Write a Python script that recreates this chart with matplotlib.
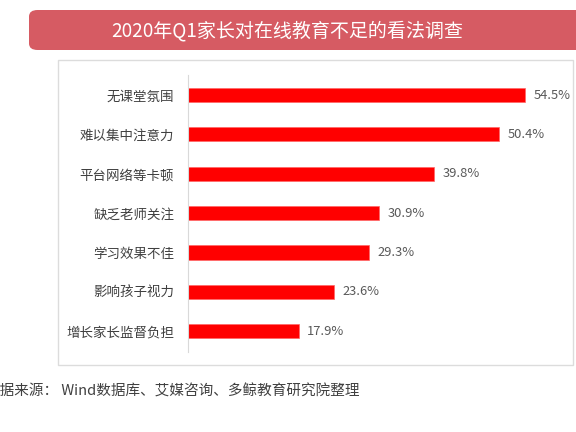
import matplotlib
matplotlib.use('Agg')
from matplotlib import pyplot as plt
from matplotlib.patches import FancyBboxPatch, Rectangle

plt.rcParams['font.family'] = ['Noto Sans CJK SC', 'DejaVu Sans']

title = '2020年Q1家长对在线教育不足的看法调查'
source = '数据来源： Wind数据库、艾媒咨询、多鲸教育研究院整理'
categories = ['无课堂氛围', '难以集中注意力', '平台网络等卡顿', '缺乏老师关注',
              '学习效果不佳', '影响孩子视力', '增长家长监督负担']
values = [54.5, 50.4, 39.8, 30.9, 29.3, 23.6, 17.9]

W, H = 576, 432
fig = plt.figure(figsize=(W / 100, H / 100), dpi=100)

# title banner
banner = FancyBboxPatch((29 / W, 1 - 50 / H), 600 / W, 40 / H,
                        boxstyle='round,pad=0,rounding_size=0.015',
                        transform=fig.transFigure, facecolor='#D65B63',
                        edgecolor='none', zorder=-2)
fig.patches.append(banner)
fig.text(287 / W, 1 - 31 / H, title, color='white', fontsize=13.7,
         ha='center', va='center')

# outer frame, kept under the axes
frame = Rectangle((58 / W, 1 - 365 / H), 515 / W, 305 / H,
                  transform=fig.transFigure, facecolor='white',
                  edgecolor='#DCDCDC', lw=1, zorder=-2)
fig.patches.append(frame)

ax = fig.add_axes([188 / W, 80 / H, 383 / W, 277 / H])
ax.set_facecolor('none')
y = list(range(len(categories)))
ax.barh(y, values, height=0.36, color='#FF0000', edgecolor='#FF6666', lw=0.5)
for yi, v in zip(y, values):
    ax.text(v + 1.4, yi, f'{v}%', va='center', ha='left', fontsize=9.3,
            color='#595959')

ax.set_xlim(0, 62)
ax.set_ylim(6.53, -0.51)
ax.set_yticks(y)
ax.set_yticklabels(categories, fontsize=9.7, color='#404040')
ax.tick_params(axis='y', length=0, pad=10)
ax.set_xticks([])
for s in ['top', 'right', 'bottom']:
    ax.spines[s].set_visible(False)
ax.spines['left'].set_color('#D9D9D9')

fig.text(-15 / W, 1 - 392 / H, source, fontsize=10.5, color='#404040',
         ha='left', va='center')

fig.savefig('out.png', dpi=100)
